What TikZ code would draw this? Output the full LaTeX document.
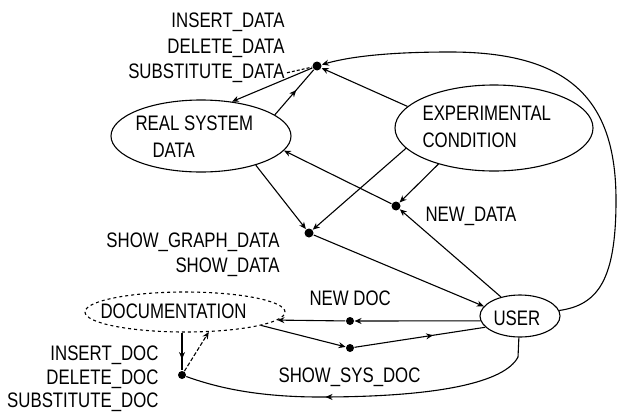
\documentclass[tikz,border=0pt]{standalone}
\usepackage{fontspec}
\setmainfont{Liberation Sans}[FakeStretch=0.8]
\usetikzlibrary{shapes.geometric,arrows.meta,decorations.markings}
\begin{document}
\begin{tikzpicture}[x=1pt,y=-1pt, line width=1.1pt,
  lbl/.style={inner sep=0, font=\fontsize{21}{21}\selectfont},
  oval/.style={ellipse, draw, inner sep=0},
  dotn/.style={circle, fill, inner sep=0, minimum size=9},
  arr/.style={-{Stealth[length=7pt,width=6pt]}},
  midarr/.style={postaction={decorate,decoration={markings,mark=at position #1 with {\arrow{Stealth[length=7pt,width=6pt]}}}}},
]
\useasboundingbox (0,0) rectangle (617,412);

% ellipses
\node[oval, minimum width=180, minimum height=72] (real) at (201,136) {};
\node[oval, minimum width=198, minimum height=86] (exp) at (494,128) {};
\node[oval, dashed, minimum width=200, minimum height=40] (doc) at (185,312) {};
\node[oval, minimum width=80, minimum height=42] (user) at (520,316) {};

% texts inside ellipses
\node[lbl, anchor=base west] (realA) at (135,130) {REAL SYSTEM};
\node[lbl, anchor=base west] (realB) at (152,157) {DATA};
\node[lbl, anchor=base west] (expA) at (422,120) {EXPERIMENTAL};
\node[lbl, anchor=base west] (expB) at (422,147) {CONDITION};
\node[lbl, anchor=base west] (docT) at (100,318) {DOCUMENTATION};
\node[lbl, anchor=base west] (userT) at (493,325) {USER};

% junction dots
\node[dotn] (dtop) at (317,66) {};
\node[dotn] (dnew) at (396,206) {};
\node[dotn] (dshow) at (309,233) {};
\node[dotn, minimum size=8] (dnewdoc) at (350,321) {};
\node[dotn, minimum size=8] (dsys) at (350,348) {};
\node[dotn, minimum size=8] (ddoc) at (182,375) {};

% labels
\node[lbl, anchor=base east] (insd) at (285,28) {INSERT\_DATA};
\node[lbl, anchor=base east] (deld) at (285,53) {DELETE\_DATA};
\node[lbl, anchor=base east] (subd) at (285,78) {SUBSTITUTE\_DATA};
\node[lbl, anchor=base west] (newd) at (425,221) {NEW\_DATA};
\node[lbl, anchor=base east] (sgd) at (280,247) {SHOW\_GRAPH\_DATA};
\node[lbl, anchor=base east] (sd) at (280,272) {SHOW\_DATA};
\node[lbl, anchor=base west] (ndoc) at (309,305) {NEW DOC};
\node[lbl, anchor=base west] (ssd) at (278,382) {SHOW\_SYS\_DOC};
\node[lbl, anchor=base east] (insdoc) at (159,360) {INSERT\_DOC};
\node[lbl, anchor=base east] (deldoc) at (159,384) {DELETE\_DOC};
\node[lbl, anchor=base east] (subdoc) at (159,407) {SUBSTITUTE\_DOC};

% connectors
\draw[dash pattern=on 3pt off 2pt] ([xshift=2pt]subd.east) -- (dtop);
\draw[arr] (dtop) -- (real.48);
\draw[midarr=0.55] (real.16) -- (dtop);
\draw[arr] (exp.166) -- (dtop);
\draw[arr] (user.8) .. controls (598,305) and (616,280) .. (616,200)
  .. controls (616,100) and (570,52) .. (450,52)
  .. controls (380,52) and (345,58) .. (dtop);
\draw[arr] (real.-28) -- (dshow);
\draw[arr] (exp.-167) -- (dshow);
\draw[arr] (exp.-147) -- (dnew);
\draw[arr] (user.135) -- (dnew);
\draw[arr] (dnew) -- (real.-10);
\draw[arr] (dshow) -- (user.165);
\draw[arr] (user.187) -- (dnewdoc);
\draw[arr] (dnewdoc) -- (doc.-5);
\draw[arr] (doc.-10) -- (dsys);
\draw[midarr=0.6] (dsys) -- (user.198);
\draw[midarr=0.7] (ddoc |- doc.south) -- (ddoc);
\draw[arr, dash pattern=on 4pt off 2pt] (ddoc) -- (doc.-40);
\draw[midarr=0.61] (user.-93) -- (518,357) .. controls (505,382) and (440,397) .. (320,397)
  .. controls (250,397) and (210,385) .. (ddoc);
\end{tikzpicture}
\end{document}
